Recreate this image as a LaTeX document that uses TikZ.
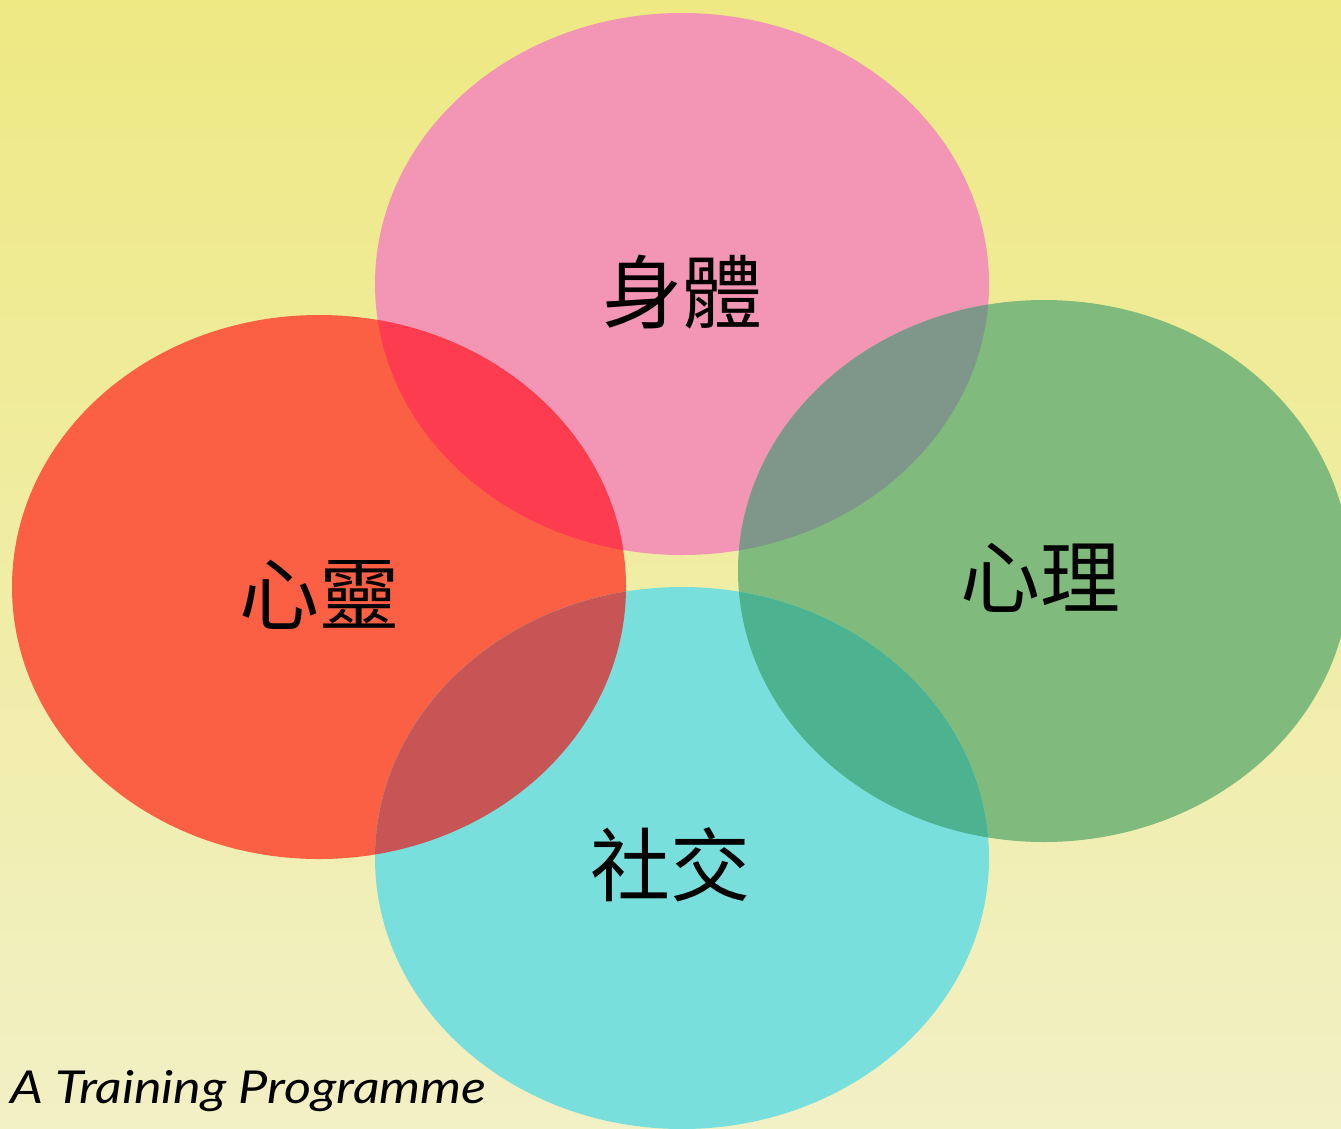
\documentclass[tikz,border=0pt]{standalone}
\usepackage{fontspec}
\newfontfamily\cjk{Noto Sans CJK TC}
\newfontfamily\hand{Lato Italic}
\definecolor{bgtop}{HTML}{EEE983}
\definecolor{bgbot}{HTML}{F2F0C5}
\definecolor{cpink}{HTML}{F395B4}
\definecolor{cred}{HTML}{FB5F44}
\definecolor{cgreen}{HTML}{80BB7D}
\definecolor{ccyan}{HTML}{79DFDC}
\definecolor{opr}{HTML}{FD3C50}
\definecolor{opg}{HTML}{7F978A}
\definecolor{orc}{HTML}{C85555}
\definecolor{ogc}{HTML}{4CB290}
\tikzset{
  lbl/.style={font=\cjk\fontsize{60}{62}\selectfont, text=black, inner sep=0pt},
}
\begin{document}
\begin{tikzpicture}[x=0.75pt,y=-0.75pt]
\useasboundingbox (0,0) rectangle (1341,1128);
\clip (0,0) rectangle (1341,1128);
\shade[top color=bgtop, bottom color=bgbot] (0,0) rectangle (1341,1128);
% ellipses
\fill[cpink] (682,284) ellipse [x radius=307, y radius=271];
\fill[cred] (319,587) ellipse [x radius=307, y radius=272];
\fill[cgreen] (1044,571) ellipse [x radius=306, y radius=271];
\fill[ccyan] (682,858) ellipse [x radius=307, y radius=271];
% overlaps
\begin{scope}
  \clip (319,587) ellipse [x radius=307, y radius=272];
  \fill[opr] (682,284) ellipse [x radius=307, y radius=271];
  \fill[orc] (682,858) ellipse [x radius=307, y radius=271];
\end{scope}
\begin{scope}
  \clip (1044,571) ellipse [x radius=306, y radius=271];
  \fill[opg] (682,284) ellipse [x radius=307, y radius=271];
  \fill[ogc] (682,858) ellipse [x radius=307, y radius=271];
\end{scope}
% labels
\node[lbl] (body) at (682,292) {身體};
\node[lbl] (spirit) at (319,595) {心靈};
\node[lbl] (mind) at (1040,578) {心理};
\node[lbl] (social) at (670,865) {社交};
\node[font=\hand\fontsize{34}{36}\selectfont, xscale=1.15, anchor=base west, inner sep=0pt] (prog) at (10,1103) {A Training Programme};
\end{tikzpicture}
\end{document}
